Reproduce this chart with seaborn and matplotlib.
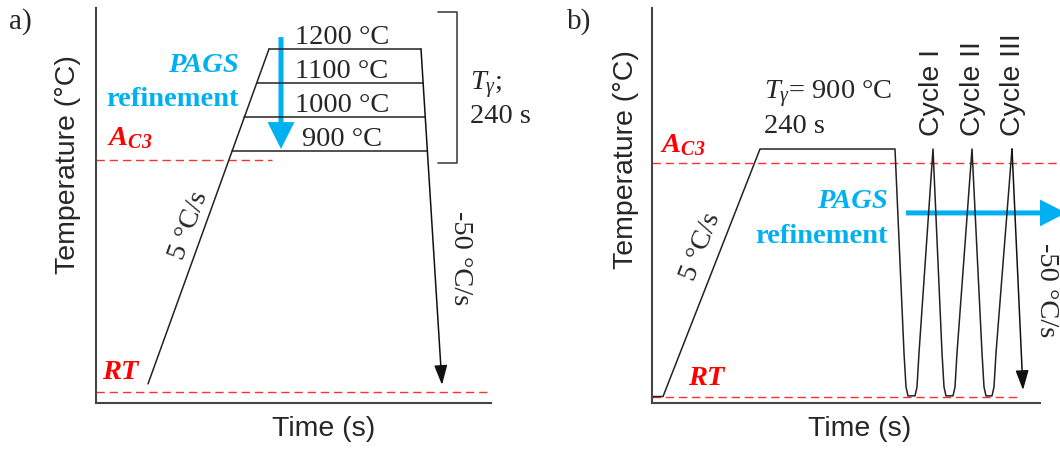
import numpy as np
import pandas as pd
import matplotlib.pyplot as plt
import seaborn as sns

# ---- panel a) : austenitizing at different temperatures ----
a_hold_temps = [900, 1000, 1100, 1200]
a_hold_labels = ["900 °C", "1000 °C", "1100 °C", "1200 °C"]
a_heat_time = [52, 173]
a_heat_temp = [215, 1200]
a_cool_time = [325, 346]
a_cool_temp = [1200, 212]
a_rt = 191
a_ac3 = 874

# ---- panel b) : austenitizing + thermal cycles ----
b_time = [0, 11, 108, 243, 252, 254, 256, 263, 265, 267, 281,
          290, 292, 294, 301, 303, 305, 320,
          330, 332, 334, 340, 342, 344, 360]
b_temp = [172, 172, 900, 900, 300, 200, 174, 174, 200, 300, 900,
          300, 200, 174, 174, 200, 300, 900,
          300, 200, 174, 174, 200, 300, 900]
b_cool_time = [360, 371]
b_cool_temp = [900, 191]
b_rt = 171
b_ac3 = 859
cycle_labels = ["Cycle I", "Cycle II", "Cycle III"]
cycle_pos = [280, 321, 361]

sns.set_style("white")
plt.rcParams["font.family"] = ["Liberation Sans", "DejaVu Sans"]
plt.rcParams["mathtext.fontset"] = "custom"
plt.rcParams["mathtext.rm"] = "Liberation Serif"
plt.rcParams["mathtext.it"] = "Liberation Serif:italic"
plt.rcParams["mathtext.bf"] = "Liberation Serif:italic:bold"

BLUE = "#00B0F0"
RED = "#FF0000"
SERIF = "Liberation Serif"
FS = 20.5

W, H = 1060, 449
fig = plt.figure(figsize=(10.6, 4.49), dpi=100)
ax_a = fig.add_axes([96 / W, (H - 403) / H, 395 / W, 395 / H])
ax_b = fig.add_axes([652 / W, (H - 403) / H, 388 / W, 395 / H])
ax_a.set_xlim(0, 395)
ax_a.set_ylim(158.8, 1320.6)
ax_b.set_xlim(0, 388)
ax_b.set_ylim(153.0, 1314.7)

for ax in (ax_a, ax_b):
    sns.despine(ax=ax)
    ax.set_xticks([])
    ax.set_yticks([])
    for s in ("left", "bottom"):
        ax.spines[s].set_color("#454545")
        ax.spines[s].set_linewidth(1.5)
    ax.patch.set_alpha(0)


def line(ax, x, y, **kw):
    d = pd.DataFrame({"t": x, "T": y})
    sns.lineplot(data=d, x="t", y="T", sort=False, estimator=None, ax=ax,
                 color=kw.pop("color", "#222222"), lw=kw.pop("lw", 1.1), **kw)


def dashed(ax, x0, x1, y, clip=True):
    ax.plot([x0, x1], [y, y], color="#FF3030", lw=1.0, dashes=(6, 3.5), clip_on=clip)


def cool_arrow(ax, t, T):
    ax.annotate("", xy=(t[1], T[1]), xytext=(t[0], T[0]),
                arrowprops=dict(arrowstyle="-|>,head_width=0.4,head_length=1.2", color="#111111",
                                lw=1.1, shrinkA=0, shrinkB=0, mutation_scale=10))


# ---------------- panel a ----------------
dashed(ax_a, 0, 395, a_rt)
dashed(ax_a, 0, 176, a_ac3)
line(ax_a, a_heat_time, a_heat_temp)
for T in a_hold_temps:
    t0 = np.interp(T, a_heat_temp, a_heat_time)
    t1 = np.interp(T, a_cool_temp[::-1], a_cool_time[::-1])
    line(ax_a, [t0, t1], [T, T])
cool_arrow(ax_a, a_cool_time, a_cool_temp)

for T, lab in zip(a_hold_temps, a_hold_labels):
    ax_a.text(246, T + 15, lab, family=SERIF, fontsize=FS, ha="center", va="baseline")

# bracket
ax_a.plot([342, 361, 361, 342], [1309, 1309, 865, 865], color="#454545", lw=1.2, clip_on=False)
ax_a.text(374, 1079, r"$T_\gamma$;", family=SERIF, fontsize=FS, va="baseline")
ax_a.text(374, 982, "240 s", family=SERIF, fontsize=FS, va="baseline")

ax_a.arrow(185, 1235, 0, 906 - 1235, width=5, head_width=27, head_length=79,
           length_includes_head=True, color=BLUE, lw=0)
ax_a.text(143, 1132, "PAGS", family=SERIF, fontsize=FS, weight="bold", style="italic",
          color=BLUE, ha="right", va="baseline")
ax_a.text(143, 1032, "refinement", family=SERIF, fontsize=FS, weight="bold",
          color=BLUE, ha="right", va="baseline")
ax_a.text(11, 918, r"$\mathbf{A_{C3}}$", fontsize=FS, color=RED, va="baseline")
ax_a.text(6, 229, "RT", family=SERIF, fontsize=FS, weight="bold", style="italic",
          color=RED, va="baseline")
ax_a.text(93, 682, "5 °C/s", family=SERIF, fontsize=FS, rotation=70,
          rotation_mode="anchor", ha="center", va="center")
ax_a.text(365, 585, "-50 °C/s", family=SERIF, fontsize=FS, rotation=-90,
          rotation_mode="anchor", ha="center", va="center")

# ---------------- panel b ----------------
dashed(ax_b, 0, 368, b_rt)
dashed(ax_b, 0, 410, b_ac3, clip=False)
line(ax_b, b_time, b_temp)
cool_arrow(ax_b, b_cool_time, b_cool_temp)
ax_b.arrow(254, 712, 414 - 254, 0, width=14.7, head_width=79, head_length=26,
           length_includes_head=True, color=BLUE, lw=0, clip_on=False)

ax_b.text(112, 1047, r"$T_\gamma$= 900 °C", family=SERIF, fontsize=FS, va="baseline")
ax_b.text(112, 947, "240 s", family=SERIF, fontsize=FS, va="baseline")
ax_b.text(8, 891, r"$\mathbf{A_{C3}}$", fontsize=FS, color=RED, va="baseline")
ax_b.text(36, 206, "RT", family=SERIF, fontsize=FS, weight="bold", style="italic",
          color=RED, va="baseline")
ax_b.text(49, 612, "5 °C/s", family=SERIF, fontsize=FS, rotation=68.6,
          rotation_mode="anchor", ha="center", va="center")
ax_b.text(394, 485, "-50 °C/s", family=SERIF, fontsize=FS, rotation=-90,
          rotation_mode="anchor", ha="center", va="center")
ax_b.text(236, 726, "PAGS", family=SERIF, fontsize=FS, weight="bold", style="italic",
          color=BLUE, ha="right", va="baseline")
ax_b.text(236, 624, "refinement", family=SERIF, fontsize=FS, weight="bold",
          color=BLUE, ha="right", va="baseline")
for x, lab in zip(cycle_pos, cycle_labels):
    ax_b.text(x, 938, lab, fontsize=20.5, rotation=90, ha="center", va="bottom")

# axis titles and panel letters
for cx, cy in [(68, 165), (626, 160)]:
    fig.text(cx / W, 1 - cy / H, "Temperature (°C)", fontsize=20.5, rotation=90,
             ha="center", va="center")
for cx in (324, 860):
    fig.text(cx / W, 1 - 429 / H, "Time (s)", fontsize=20.5, ha="center", va="center")
fig.text(9 / W, 1 - 29 / H, "a)", family=SERIF, fontsize=21, va="baseline")
fig.text(567 / W, 1 - 29 / H, "b)", family=SERIF, fontsize=21, va="baseline")

fig.savefig("out.png", dpi=100)
